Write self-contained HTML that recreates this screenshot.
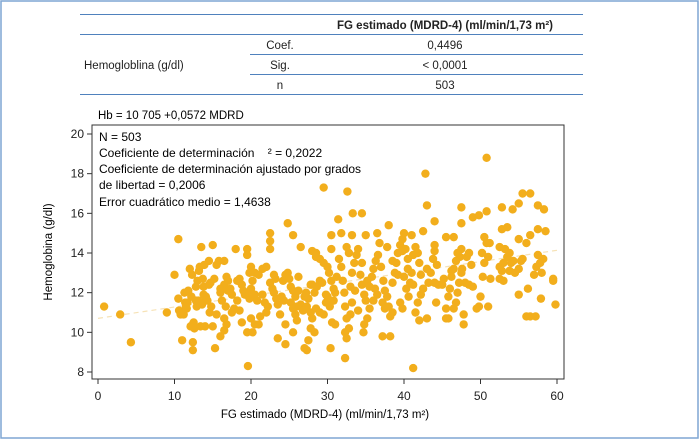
<!DOCTYPE html>
<html><head><meta charset="utf-8"><style>
body{margin:0;background:#fff;}
#wrap{position:relative;width:700px;height:440px;overflow:hidden;font-family:"Liberation Sans",sans-serif;color:#222;}
svg text{font-family:"Liberation Sans",sans-serif;}
</style></head><body>
<div id="wrap">
<svg id="svg" width="700" height="440">
<rect x="1" y="1" width="697" height="437" fill="none" stroke="#7fa6d3" stroke-width="1.5"/>
<g stroke="#4f81bd" stroke-width="1">
<line x1="80" y1="14.5" x2="583" y2="14.5"/><line x1="80" y1="34.5" x2="583" y2="34.5"/>
<line x1="250" y1="54.5" x2="583" y2="54.5"/><line x1="250" y1="74.5" x2="583" y2="74.5"/>
<line x1="80" y1="94.5" x2="583" y2="94.5"/>
</g>
<g font-size="11.5" fill="#222">
<text x="445" y="29" text-anchor="middle" font-weight="bold">FG estimado (MDRD-4) (ml/min/1,73 m²)</text>
<text x="84" y="69">Hemogloblina (g/dl)</text>
<text x="280" y="49" text-anchor="middle">Coef.</text>
<text x="280" y="69" text-anchor="middle">Sig.</text>
<text x="280" y="89" text-anchor="middle">n</text>
<text x="445" y="49" text-anchor="middle">0,4496</text>
<text x="445" y="69" text-anchor="middle">&lt; 0,0001</text>
<text x="445" y="89" text-anchor="middle">503</text>
</g>
<text x="98" y="119" font-size="11.5">Hb = 10 705  +0,0572 MDRD</text>
<g id="plot"></g>
<g font-size="12">
<text x="99" y="141">N = 503</text>
<text x="99" y="157" xml:space="preserve">Coeficiente de determinación    ² = 0,2022</text>
<text x="99" y="173" textLength="262">Coeficiente de determinación ajustado por grados</text>
<text x="99" y="189">de libertad = 0,2006</text>
<text x="99" y="206">Error cuadrático medio = 1,4638</text>
</g>
<text x="325" y="418" font-size="11.5" text-anchor="middle">FG estimado (MDRD-4) (ml/min/1,73 m²)</text>
<text transform="translate(52,252) rotate(-90)" font-size="11.5" text-anchor="middle">Hemoglobina (g/dl)</text>
</svg>
</div>
<script>
const xTicks=[0,10,20,30,40,50,60];
const yTicks=[8,10,12,14,16,18,20];
const intercept=10.705, slope=0.0572;
const fgValues=[0.8,2.9,4.3,9,10.5,10,11,12.4,12.4,19.6,41.2,32.3,29.5,32.6,42.8,50.8,43,47.5,33.3,34.5,50.8,52.8,55.5,56.5,57.5,58.3,55,54.2,49,49.8,44,47.5,31.4,24.8,22.5,25.5,22.5,26.5,22.5,19.5,19.5,18,13.5,15,28.5,28.5,30.5,30.5,31.8,33.2,35,36.5,38,40,41,42.5,52.8,53.5,57.5,58.5,56.5,55,56,50.5,50.8,51.2,52.5,47.5,45.5,46.5,44,
10.5,10.8,11,11.2,11.4,11.6,11.8,12,12.2,12.4,12.6,12.8,13,13.2,13.4,13.6,13.8,14,10.6,10.9,11.3,11.7,12.1,12.5,12.9,13.3,13.7,14.1,14.5,14.7,10.8,11.5,12.3,13.1,13.9,14.6,
15.3,15.5,16,16.5,16.8,16.5,16.2,16,16.5,16.8,17,17.3,17.5,17.8,18.2,18.5,18.8,19,19.2,19.5,19.8,20,20.5,20.8,20.2,20,19.8,20.5,21,21.5,22,20,20.5,21,21.2,20.2,19.5,18.8,18.5,15.8,15.5,16.5,17.5,15,14,14.3,14.5,14.8,15.2,16,
21.8,22,22.2,22.5,22.8,23,23,23.3,23.5,23.8,23.5,24.5,24.5,24.2,24.5,24.8,25,25.2,25.5,25.8,25.2,25.5,25.8,26,25.5,26.2,26.5,26.8,27,27.2,27.5,27.3,27.8,28,27,27.3,27.5,27.8,28.3,28,28.3,28.6,29,29.3,28.5,29,29.5,29.8,29.5,30,30.2,30.5,30.8,30,30.3,30.6,30.4,31,31.2,31.5,31.8,32,32.2,32.3,32.5,32.3,32.5,32.8,33,33.2,33,33.2,33.5,33.8,32.5,32.8,34,34.5,34.3,34.5,34.8,35,34.8,34.7,35.2,35.5,35.8,36,36.3,36.6,36.8,37,37.3,37.5,37.2,37.5,37.8,38,38.2,38.5,38.2,37.2,38.5,38.8,39,39.2,39.5,39.8,40.2,40.5,40,40.3,40.6,39.5,39.8,40.8,41,41.2,41.5,41.8,42,42.2,42.5,42.2,41.8,41.5,42,43,43.2,43.5,43.8,44,44.3,44.5,44.2,45.5,45.8,45.5,45.8,46,46.2,46.5,46.8,47,47.3,47.5,47.2,47,46.8,46.5,47.8,47.8,48,48.2,48.5,49,49.5,49.8,50,50.3,50.5,50.2,51,51.3,52.5,52.8,53,53.2,53.5,53.8,54,54.3,54.5,55,55.3,55.5,55,56,56.5,57.2,57,57.3,57.8,58,57.5,58.2,59.5,59.8,59.5,53,52.5,51,48.5,45,44,43,36,35.5,36.5,29,28,26,24,
38.5,39.2,39.8,40.5,41.2,37.8,36.2,35.2,34,33.6,31,30.8,29.8,27.8,26.2,24.3,23.2,21.5,18.2,17,16.7,13.8,12.8,45.2,46.2,47.6,48.8,53.8,56.2,57.9];
const hbValues=[11.3,10.9,9.5,11,14.7,12.9,9.6,9.5,9.1,8.3,8.2,8.7,17.3,17.1,18,18.8,16.4,16.3,16,16,16.1,16.3,17,17,16.4,16.2,16.5,16.2,15.8,15.9,15.6,15.5,15.7,15.5,15,14.9,14.6,14.3,14.2,14.2,13.9,14.2,14.3,14.4,14,13.8,14.2,14.9,15,14.9,14.9,15,15.4,15,14.9,15.1,15.2,15.3,15.2,15.1,14.9,14.7,14.5,14.8,14.5,14.5,14.3,14.2,14.8,14.8,14.4,
11.7,11,11,10.9,11.5,11.2,12.1,13.2,11.8,10.4,10.2,11.6,12.6,13.1,10.3,11.4,12.3,11.6,11.1,11,12,11.5,10.3,10.5,11.3,13.3,12.7,11.8,13.6,12.5,10.9,11.3,12.9,11.6,13.4,11,
9.2,10.9,9.8,10.1,10.4,10.7,11.6,12.2,12.4,12.8,12.6,12.2,11.9,11.2,12.6,12.7,12.4,12.1,11.9,12,11.7,12.2,11.9,11.6,12.6,13.3,13,13,12.9,13.2,13.3,10.7,10.4,10.4,10.8,10,10,10.5,11.1,13.6,13.4,13.6,11,10.3,10.3,11.6,12.4,11.3,12.7,12,
11.5,11,11.3,12.5,12.2,12.9,12,11.7,11.4,10.9,9.7,9.4,10.4,12.6,12.9,13,12.7,12.3,12.1,11.8,11.5,11.2,10.9,10.6,10,12.8,11.4,11.1,11.8,12,11.7,11.3,11,10.7,9.2,9.1,9.6,10.2,10,12.4,12,12.3,12.6,12.5,11.2,11,10.9,11.5,13.5,13.3,13,12.6,12.2,11.8,11.3,10.5,9.2,12,12.8,13.7,13.3,12.6,12,11.3,10.7,10,9.7,10.2,10.9,11.5,12.3,13,13.5,13.9,14.3,14,14.2,13.5,12.9,12.4,11.9,11.6,10.4,10,10.7,12.3,12.8,13.2,13.6,13.9,14.5,13.3,12.6,12.1,11.5,11.2,11.8,11.3,10.8,11,9.8,9.8,12.5,13,13.5,14,14.4,14.7,14.2,13.7,12.8,12.2,11.8,11.5,11.2,12.5,13,13.9,14.3,14,13.5,12.9,12.2,11.9,11.5,11,10.6,10.7,12.5,13,13.7,14.1,13.4,12.4,11.5,10.7,10.7,11.2,11.8,12.2,12.8,13.2,13.6,14,13.8,13,12.5,12,11.5,11.2,10.9,10.4,12.5,13.8,14,12.3,11.2,11.3,11.8,12.8,13.5,14,13.8,12.7,12.7,13.1,13.5,14.2,13.8,14,13.5,13.6,13,13.2,13.6,13.7,11.9,10.8,10.8,10.8,12.9,13.3,13.5,13,13.9,13.7,12.7,11.4,12.6,12.6,13.3,11.3,12.4,12.4,12.5,13.2,11.6,11.2,11.9,13.7,14.1,11.3,11.8,
13.6,12.9,14.1,13.2,12.4,14.3,12.2,12.6,11.1,12.1,10.4,11.6,11.9,12.4,12.1,11.6,12.7,11.9,11.6,12.1,11.3,11.9,12.3,12.7,13.1,13.2,13.4,13.1,12.2,11.7];
const NS='http://www.w3.org/2000/svg';
const L=92,R=564,T=125,B=379;
const X0=98,X1=557,Y20=134,Y8=372;
function xs(v){return X0+(v-0)*(X1-X0)/60;}
function ys(v){return Y8-(v-8)*(Y8-Y20)/12;}
const g=document.getElementById('plot');
function mk(tag,attrs){const e=document.createElementNS(NS,tag);for(const k in attrs)e.setAttribute(k,attrs[k]);g.appendChild(e);return e;}
let tl=mk('line',{x1:xs(0),y1:ys(intercept),x2:xs(60),y2:ys(intercept+slope*60),stroke:'#f6e2b6','stroke-width':1.2,'stroke-dasharray':'5 4'});


for(let i=0;i<fgValues.length;i++){
  const c=mk('circle',{cx:xs(fgValues[i]),cy:ys(hbValues[i]),r:4.2,fill:'#f2ae1c'});
  
  
}
let box=mk('rect',{x:L,y:T,width:R-L,height:B-T,fill:'none',stroke:'#333','stroke-width':1});


xTicks.forEach(v=>{
  const t=mk('line',{x1:xs(v),x2:xs(v),y1:B,y2:B+5,stroke:'#333'});
  
  
  const l=mk('text',{x:xs(v),y:B+21,'font-size':12,'text-anchor':'middle',fill:'#222'});
  l.textContent=v;
  
  
});
yTicks.forEach(v=>{
  const t=mk('line',{x1:L-5,x2:L,y1:ys(v),y2:ys(v),stroke:'#333'});
  
  
  const l=mk('text',{x:L-8,y:ys(v)+4,'font-size':12,'text-anchor':'end',fill:'#222'});
  l.textContent=v;
  
  
});
</script>
</body></html>
